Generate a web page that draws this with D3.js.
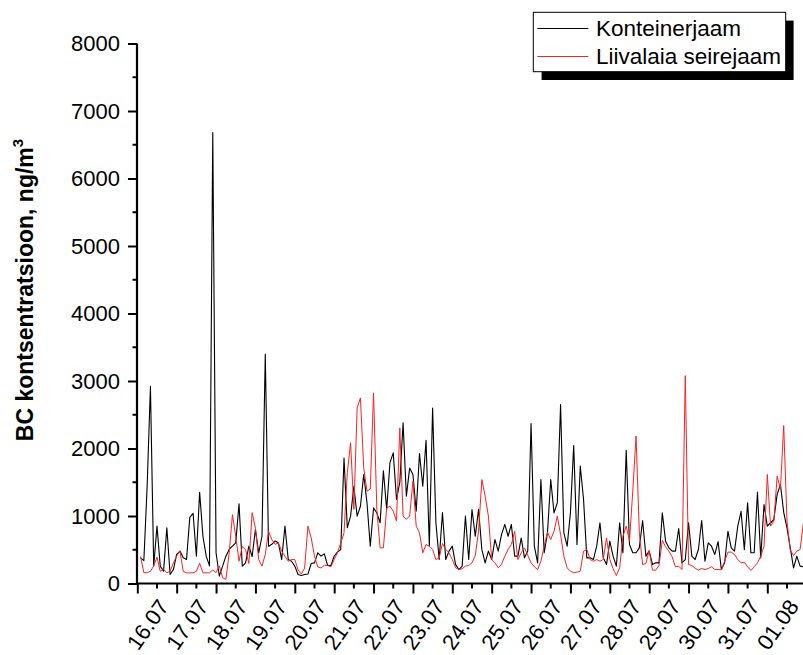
<!DOCTYPE html>
<html>
<head>
<meta charset="utf-8">
<script src="https://cdn.jsdelivr.net/npm/d3@7"></script>
<style>
  html, body { margin: 0; padding: 0; background: #fff; }
  svg { display: block; }
  text { font-family: "Liberation Sans", Arial, sans-serif; }
</style>
</head>
<body>
<svg id="chart" width="803" height="655"></svg>
<script>
// Day labels for the time axis (one per midnight)
const days = ["16.07","17.07","18.07","19.07","20.07","21.07","22.07","23.07","24.07",
              "25.07","26.07","27.07","28.07","29.07","30.07","31.07","01.08"];

// Sampling of both series: hours since 16.07 00:00
const startHour = 2;
const stepHours = 2;

// BC concentration, ng/m3 — container station
const konteinerjaam = [
  380,340,1440,2920,260,850,255,183,825,133,207,430,
  480,380,355,980,1040,405,1350,700,405,260,6680,455,
  110,257,405,504,553,603,1180,257,306,553,400,800,
  454,700,3400,553,580,630,600,355,850,355,330,257,
  133,118,133,140,296,306,455,405,440,267,267,405,
  465,504,1860,825,998,1440,998,1145,1615,1195,553,1120,
  1045,900,1670,1096,1790,1935,1245,1500,2380,1294,1710,1615,
  1070,1925,1440,2120,553,2600,900,355,1050,355,480,553,
  280,207,257,1000,355,1096,700,1100,505,306,480,355,
  650,480,725,875,700,875,405,405,675,380,480,2370,
  553,306,1540,455,750,1540,1047,1195,2650,750,553,1047,
  2045,578,1740,1245,380,380,355,553,900,380,280,627,
  405,257,900,454,1975,578,455,455,528,933,405,480,
  282,306,306,1047,627,528,480,480,815,306,355,900,
  405,355,504,933,330,603,553,430,620,207,306,775,
  528,480,850,1070,500,1195,455,455,1353,380,1170,850,
  900,950,1320,1467,1055,825,528,232,405,257,247
];

// BC concentration, ng/m3 — Liivalaia monitoring station
const liivalaia = [
  400,160,160,180,260,390,180,207,160,180,306,405,
  480,180,158,158,158,180,300,158,158,158,200,160,
  260,85,60,450,1020,700,330,550,500,297,1050,820,
  355,257,430,775,650,580,600,480,405,330,355,355,
  200,140,230,850,675,405,245,230,270,267,247,355,
  455,600,750,1640,2085,1100,2600,2750,1713,1368,1400,2825,
  1096,528,528,1120,1145,1070,925,2305,1000,950,1000,1515,
  850,750,455,578,553,504,355,380,593,504,455,355,
  232,207,218,257,267,306,415,775,1540,1295,998,355,
  306,232,282,405,504,578,775,355,454,528,415,306,
  247,207,330,553,760,652,775,998,725,405,232,183,
  158,168,183,480,504,355,330,355,330,355,675,355,
  218,118,232,700,850,627,1368,2183,750,282,296,490,
  198,198,267,640,543,480,395,247,257,207,3080,282,
  267,227,198,222,207,222,247,207,207,202,330,465,
  465,430,355,306,316,247,193,247,306,405,553,1615,
  850,925,1590,1400,2340,925,494,415,480,504,900
];

const yTicks = [0,1000,2000,3000,4000,5000,6000,7000,8000];

const svg = d3.select("#chart");

const x = d3.scaleLinear().domain([0, 24 * 16]).range([137.3, 767.3]);
const y = d3.scaleLinear().domain([0, 8000]).range([583.5, 43.5]);

// ---- axes ----
const axisColor = "#000";

// minor ticks on y (every 500)
const yMinor = d3.range(500, 8000, 1000);
svg.append("g").selectAll("line").data(yMinor).join("line")
  .attr("x1", 137).attr("x2", 132.5)
  .attr("y1", d => y(d)).attr("y2", d => y(d))
  .attr("stroke", axisColor).attr("stroke-width", 2);

const yAxis = svg.append("g")
  .attr("transform", "translate(137,0)")
  .call(d3.axisLeft(y).tickValues(yTicks).tickSize(9).tickPadding(8).tickFormat(d3.format("d")));
yAxis.select(".domain").attr("stroke-width", 2.2).attr("d", `M0,${y(0)}V${y(8000)}`);
yAxis.selectAll(".tick line").attr("stroke-width", 2);
yAxis.selectAll(".tick text").attr("font-size", 22).attr("fill", "#000")
  .attr("font-family", "Liberation Sans, Arial, sans-serif");

// x axis: major ticks at midnight, minor at noon
const xMajor = d3.range(0, 24 * 16 + 1, 24);
const xMinor = d3.range(12, 24 * 17, 24);
svg.append("g").selectAll("line").data(xMinor).join("line")
  .attr("x1", d => x(d)).attr("x2", d => x(d))
  .attr("y1", y(0)).attr("y2", y(0) + 5)
  .attr("stroke", axisColor).attr("stroke-width", 2);

const xAxis = svg.append("g")
  .attr("transform", `translate(0,${y(0)})`)
  .call(d3.axisBottom(x).tickValues(xMajor).tickSize(10).tickFormat((d, i) => days[i]));
xAxis.select(".domain").attr("stroke-width", 2.2).attr("d", `M136,0H805`);
xAxis.selectAll(".tick line").attr("stroke-width", 2);
xAxis.selectAll(".tick text")
  .attr("font-size", 22).attr("fill", "#000")
  .attr("font-family", "Liberation Sans, Arial, sans-serif")
  .attr("text-anchor", "end")
  .attr("dy", null).attr("y", 0).attr("x", 0)
  .attr("transform", "translate(32,23) rotate(-55)");

// ---- y-axis title ----
const title = svg.append("text")
  .attr("transform", "translate(33,290) rotate(-90)")
  .attr("text-anchor", "middle")
  .attr("font-size", 23).attr("font-weight", "bold").attr("fill", "#000");
title.append("tspan").text("BC kontsentratsioon, ng/m");
title.append("tspan").attr("font-size", 15).attr("dy", -10).text("3");

// ---- series ----
const line = d3.line()
  .x((d, i) => x(startHour + i * stepHours))
  .y(d => y(d));

svg.append("path").datum(konteinerjaam)
  .attr("fill", "none").attr("stroke", "#000").attr("stroke-width", 1.1)
  .attr("stroke-linejoin", "round").attr("d", line);

svg.append("path").datum(liivalaia)
  .attr("fill", "none").attr("stroke", "#ff2020").attr("stroke-width", 1)
  .attr("stroke-linejoin", "round").attr("d", line);

// ---- legend ----
const legend = svg.append("g");
legend.append("rect").attr("x", 541.6).attr("y", 20.6).attr("width", 252).attr("height", 59.4).attr("fill", "#000");
legend.append("rect").attr("x", 533.3).attr("y", 12.3).attr("width", 252.4).attr("height", 59.4)
  .attr("fill", "#fff").attr("stroke", "#000").attr("stroke-width", 1);

const legendItems = [
  { name: "Konteinerjaam", color: "#000", yy: 28.5 },
  { name: "Liivalaia seirejaam", color: "#ff2020", yy: 56.5 }
];
legendItems.forEach(it => {
  legend.append("line").attr("x1", 537.3).attr("x2", 588.3)
    .attr("y1", it.yy).attr("y2", it.yy).attr("stroke", it.color).attr("stroke-width", 1.1);
  legend.append("text").attr("x", 596).attr("y", it.yy + 7.5)
    .attr("font-size", 22.5).attr("fill", "#000").text(it.name);
});
</script>
</body>
</html>
